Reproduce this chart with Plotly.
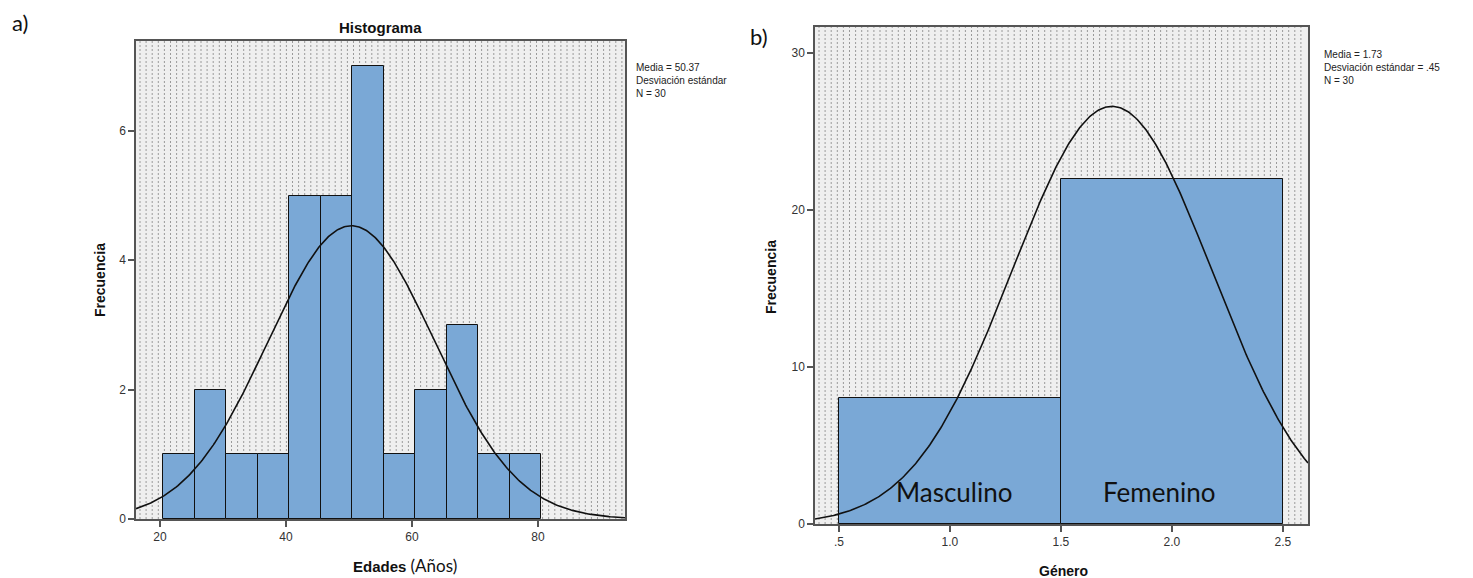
import numpy as np
import plotly.graph_objects as go

# ---- data ----
age_bin_centers = [23, 28, 33, 38, 43, 48, 53, 58, 63, 68, 73, 78]
age_counts = [1, 2, 1, 1, 5, 5, 7, 1, 2, 3, 1, 1]
age_bin_width = 5
age_mean = 50.37
age_sd = 13.2
age_n = 30

gender_bin_centers = [1.0, 2.0]
gender_counts = [8, 22]
gender_labels = ["Masculino", "Femenino"]
gender_label_x = [1.02, 1.94]
gender_bin_width = 1
gender_mean = 1.73
gender_sd = 0.45
gender_n = 30

left_xticks = [20, 40, 60, 80]
left_yticks = [0, 2, 4, 6]
right_xticks = [0.5, 1.0, 1.5, 2.0, 2.5]
right_xtick_text = [".5", "1.0", "1.5", "2.0", "2.5"]
right_yticks = [0, 10, 20, 30]

W, H = 1473, 578
BAR = "#7aa8d6"
BG = "#efefef"
AX = "#555555"
FONT = "Liberation Sans"

def px(x):
    return x / W

def py(y):
    return 1 - y / H

left_xr = [16.2, 93.8]
left_yr = [0, 7.39]
right_xr = [0.392, 2.613]
right_yr = [0, 31.65]

fig = go.Figure()

fig.add_trace(go.Bar(x=age_bin_centers, y=age_counts, width=age_bin_width,
                     marker=dict(color=BAR, line=dict(color="#111111", width=1)),
                     xaxis="x", yaxis="y", showlegend=False))
xs = np.linspace(left_xr[0], left_xr[1], 400)
ys = age_n * age_bin_width / (age_sd * np.sqrt(2 * np.pi)) * np.exp(-0.5 * ((xs - age_mean) / age_sd) ** 2)
fig.add_trace(go.Scatter(x=xs, y=ys, mode="lines", line=dict(color="#111111", width=1.6),
                         xaxis="x", yaxis="y", showlegend=False))

fig.add_trace(go.Bar(x=gender_bin_centers, y=gender_counts, width=gender_bin_width,
                     marker=dict(color=BAR, line=dict(color="#111111", width=1)),
                     xaxis="x2", yaxis="y2", showlegend=False))
xs2 = np.linspace(right_xr[0], right_xr[1], 400)
ys2 = gender_n * gender_bin_width / (gender_sd * np.sqrt(2 * np.pi)) * np.exp(-0.5 * ((xs2 - gender_mean) / gender_sd) ** 2)
fig.add_trace(go.Scatter(x=xs2, y=ys2, mode="lines", line=dict(color="#111111", width=1.6),
                         xaxis="x2", yaxis="y2", showlegend=False))

axcommon = dict(showgrid=False, zeroline=False, showline=True, mirror=True,
                automargin=False,
                linecolor=AX, linewidth=1.5, ticks="outside", ticklen=6,
                tickcolor=AX, tickwidth=1.5,
                tickfont=dict(family=FONT, size=12, color="#333333"))

fig.update_layout(
    width=W, height=H, margin=dict(l=0, r=0, t=0, b=0, autoexpand=False),
    paper_bgcolor="white", plot_bgcolor=BG, bargap=0,
    xaxis=dict(domain=[px(136), px(625)], range=left_xr, tickvals=left_xticks,
               anchor="y", **axcommon),
    yaxis=dict(domain=[py(519), py(41)], range=left_yr, tickvals=left_yticks,
               anchor="x", **axcommon),
    xaxis2=dict(domain=[px(815), px(1308)], range=right_xr, tickvals=right_xticks,
                ticktext=right_xtick_text, anchor="y2", **axcommon),
    yaxis2=dict(domain=[py(524), py(27)], range=right_yr, tickvals=right_yticks,
                anchor="x2", **axcommon),
)

# dotted background pattern
shapes = []
for (x0, x1, y0, y1) in [(136, 625, 41, 519), (815, 1308, 27, 524)]:
    for xp in np.arange(x0 + 4, x1 - 1, 6.1):
        shapes.append(dict(type="line", xref="paper", yref="paper",
                           x0=px(xp), x1=px(xp), y0=py(y1), y1=py(y0),
                           line=dict(color="#9a9a9a", width=1, dash="2px,2px"),
                           layer="below"))
fig.update_layout(shapes=shapes)

ann = []
def A(text, x, y, size, family=FONT, xanchor="center", yanchor="middle", angle=0, color="#111111", align="center"):
    ann.append(dict(text=text, x=px(x), y=py(y), xref="paper", yref="paper",
                    showarrow=False, xanchor=xanchor, yanchor=yanchor, textangle=angle,
                    align=align, font=dict(family=family, size=size, color=color)))

A("a)", 10, 22, 22, family="Lato", xanchor="left")
A("b)", 748, 37, 22, family="Lato", xanchor="left")
A("<b>Histograma</b>", 380, 27, 15)
A("<b>Frecuencia</b>", 100, 280, 14, angle=-90)
A("<b>Frecuencia</b>", 771, 277, 14, angle=-90)
A("<b>Edades</b> <span style='font-family:Lato;font-size:17px'>(Años)</span>", 405, 565, 15)
A("<b>Género</b>", 1063, 571, 14)
A("Media = 50.37<br>Desviación estándar<br>N = 30", 634, 80, 10, xanchor="left", color="#222222", align="left")
A("Media = 1.73<br>Desviación estándar = .45<br>N = 30", 1322, 67, 10, xanchor="left", color="#222222", align="left")
for lx, lab in zip(gender_label_x, gender_labels):
    ann.append(dict(text=lab, x=lx, y=0.9,
                    xref="x2", yref="y2", showarrow=False, yanchor="bottom",
                    font=dict(family="Lato", size=26, color="#111111")))
fig.update_layout(annotations=ann)

fig.write_html("out.html", config={"displayModeBar": False},
               post_script="document.body.style.margin='0';")
